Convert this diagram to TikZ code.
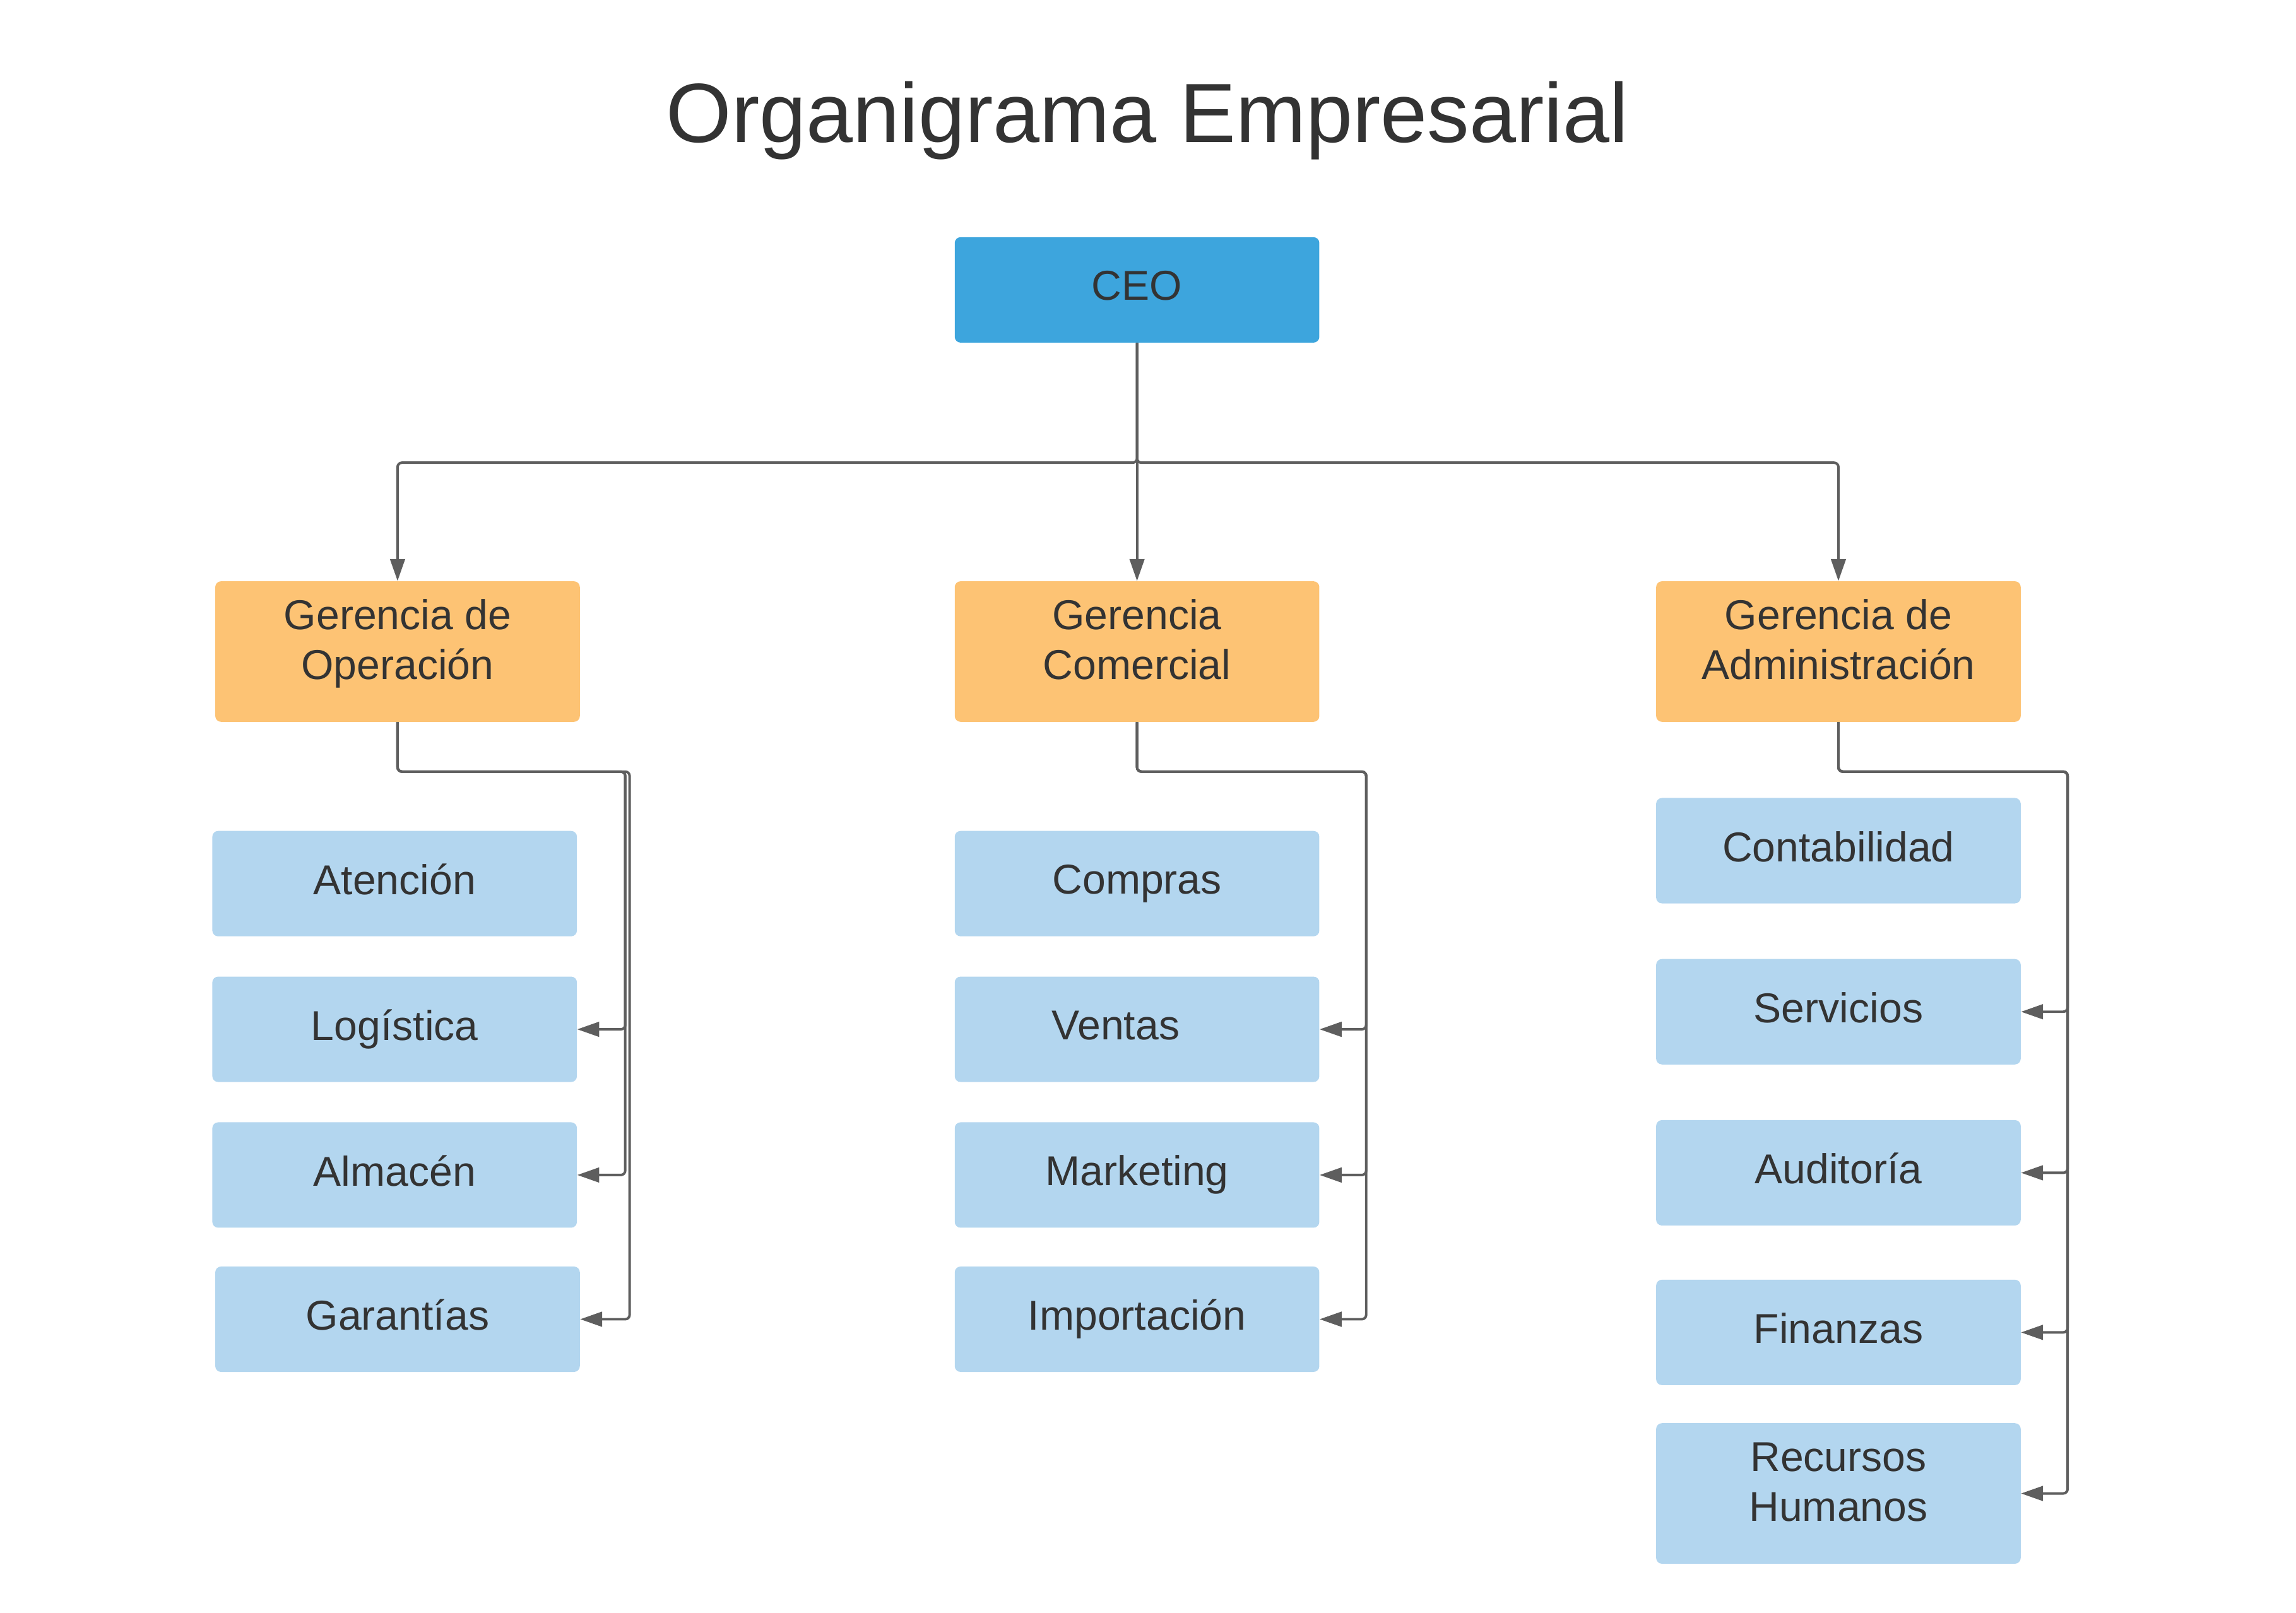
\documentclass[tikz,border=0pt]{standalone}
\usepackage{fontspec}
\setmainfont{Liberation Sans}
\usetikzlibrary{arrows.meta}
\definecolor{ceoblue}{HTML}{3DA5DD}
\definecolor{mgrorange}{HTML}{FDC374}
\definecolor{unitblue}{HTML}{B3D6EF}
\definecolor{linegray}{HTML}{5E5E5E}
\definecolor{txtgray}{HTML}{333333}
\newcommand\onestrut{\rule[-6pt]{0pt}{26pt}}
\newcommand\twostrut{\rule[-18pt]{0pt}{40pt}}
\newcommand\boxfont{\fontsize{28.5}{34}\selectfont\setlength{\lineskiplimit}{-100pt}\setlength{\lineskip}{0pt}}
\tikzset{
  box/.style={rectangle, rounded corners=4pt, draw=none, inner sep=0pt,
    minimum width=249pt, minimum height=72pt, align=center,
    text=txtgray, font=\boxfont},
  ceobox/.style={box, fill=ceoblue},
  mgrbox/.style={box, fill=mgrorange, minimum height=96pt},
  unitbox/.style={box, fill=unitblue},
  tallunit/.style={unitbox, minimum height=96pt},
  conn/.style={draw=linegray, line width=1.7pt, rounded corners=3pt,
    -{Triangle[length=15pt,width=10pt]}}
}
\begin{document}
\begin{tikzpicture}[x=1pt,y=-1pt]
\useasboundingbox (0,0) rectangle (1568,1101.6);
\node[text=txtgray, font=\fontsize{57.4}{64}\selectfont, anchor=base] (title) at (783.5,97) {Organigrama Empresarial};

% CEO
\node[ceobox] (ceo) at (776.5,198) {\onestrut CEO};

% Managers
\node[mgrbox] (g1) at (271.5,445) {\twostrut Gerencia de\\\twostrut Operación};
\node[mgrbox] (g2) at (776.5,445) {\twostrut Gerencia\\\twostrut Comercial};
\node[mgrbox] (g3) at (1255.5,445) {\twostrut Gerencia de\\\twostrut Administración};

% Left column
\node[unitbox] (aten) at (269.5,603.5) {\onestrut Atención};
\node[unitbox] (logi) at (269.5,703) {\onestrut Logística};
\node[unitbox] (alma) at (269.5,802.5) {\onestrut Almacén};
\node[unitbox] (gara) at (271.5,901) {\onestrut Garantías};

% Center column
\node[unitbox] (comp) at (776.5,603.5) {\onestrut Compras};
\node[unitbox] (vent) at (776.5,703) {\hspace*{-29pt}\onestrut Ventas};
\node[unitbox] (mark) at (776.5,802.5) {\onestrut Marketing};
\node[unitbox] (impo) at (776.5,901) {\onestrut Importación};

% Right column
\node[unitbox] (cont) at (1255.5,581) {\onestrut Contabilidad};
\node[unitbox] (serv) at (1255.5,691) {\onestrut Servicios};
\node[unitbox] (audi) at (1255.5,801) {\onestrut Auditoría};
\node[unitbox] (fina) at (1255.5,910) {\onestrut Finanzas};
\node[tallunit] (rrhh) at (1255.5,1020) {\twostrut Recursos\\\twostrut Humanos};

% Junction coordinates
\coordinate (j0) at (776.5,316);
\coordinate (jl) at (427,527);
\coordinate (jlb) at (430,527);
\coordinate (jc) at (933,527);
\coordinate (jr) at (1412,527);

% CEO to managers
\draw[conn] (ceo.south) -- (j0) -| (g1.north);
\draw[conn] (ceo.south) -- (j0) -| (g3.north);
\draw[conn] (ceo.south) -- (g2.north);

% Left column connectors
\draw[conn] (g1.south) |- (jl) |- (logi.east);
\draw[conn] (g1.south) |- (jl) |- (alma.east);
\draw[conn] (g1.south) |- (jlb) |- (gara.east);

% Center column connectors
\draw[conn] (g2.south) |- (jc) |- (vent.east);
\draw[conn] (g2.south) |- (jc) |- (mark.east);
\draw[conn] (g2.south) |- (jc) |- (impo.east);

% Right column connectors
\draw[conn] (g3.south) |- (jr) |- (serv.east);
\draw[conn] (g3.south) |- (jr) |- (audi.east);
\draw[conn] (g3.south) |- (jr) |- (fina.east);
\draw[conn] (g3.south) |- (jr) |- (rrhh.east);
\end{tikzpicture}
\end{document}
